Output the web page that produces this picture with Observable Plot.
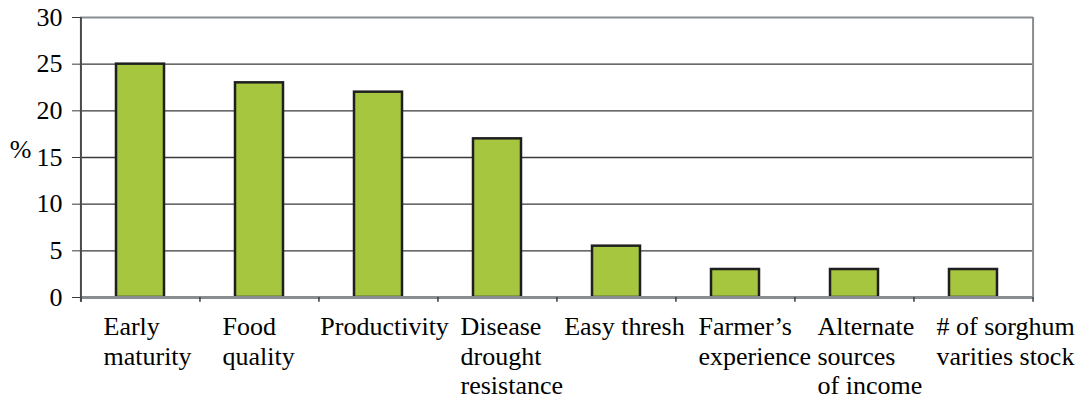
<!DOCTYPE html>
<html><head><meta charset="utf-8">
<script src="https://cdn.jsdelivr.net/npm/d3@7"></script>
<script src="https://cdn.jsdelivr.net/npm/@observablehq/plot@0.6"></script>
<style>body{margin:0;background:#fff;font-family:serif;}</style>
</head><body><div id="chart"></div>
<script>
const categories = ["Early maturity","Food quality","Productivity","Disease drought resistance","Easy thresh","Farmer’s experience","Alternate sources of income","# of sorghum varities stock"];
const labelLines = [["Early","maturity"],["Food","quality"],["Productivity"],["Disease","drought","resistance"],["Easy thresh"],["Farmer’s","experience"],["Alternate","sources","of income"],["# of sorghum","varities stock"]];
const values = [25, 23, 22, 17, 5.5, 3, 3, 3];
const yTicks = [0, 5, 10, 15, 20, 25, 30];
const yLabel = "%";

const W = 1077, H = 401, mL = 80, mR = 44, mT = 17, mB = 104;
const step = (W - mL - mR) / categories.length;
const FONT = "serif";
const FS = 26;
const data = categories.map((c, i) => ({cat: c, value: values[i], label: labelLines[i].join("\n"), lines: labelLines[i]}));

const approxWidth = s => s.length * FS * 0.45;
const labelMarks = data.map(d => {
  const w = Math.max(...d.lines.map(approxWidth));
  const dx = d.lines.length > 1 ? -37 : -w / 2 + 12;
  return Plot.text([d], {x: "cat", text: "label", frameAnchor: "bottom", dy: 17, dx,
    lineAnchor: "top", textAnchor: "start", lineHeight: 1.13, fontSize: FS, fontFamily: FONT});
});

const last = categories[categories.length - 1];
const chart = Plot.plot({
  width: W, height: H,
  marginLeft: mL, marginRight: mR, marginTop: mT, marginBottom: mB,
  style: {fontFamily: FONT, fontSize: FS + "px"},
  x: {domain: categories, paddingInner: 0.6, paddingOuter: 0.3, axis: null},
  y: {domain: [0, 30], axis: null},
  marks: [
    Plot.ruleY(yTicks.filter(t => t > 0 && t < 30), {stroke: "#3a3a3a", strokeWidth: 1.3}),
    Plot.ruleY([30], {stroke: "#8a8d90", strokeWidth: 2}),
    Plot.ruleX([last], {x: d => d, dx: step / 2, y1: 0, y2: 30, stroke: "#8a8d90", strokeWidth: 2}),
    Plot.barY(data, {x: "cat", y: "value", fill: "#a6c63f", stroke: "#1f1f1f", strokeWidth: 2.5}),
    Plot.ruleY([0], {stroke: "#8a8d90", strokeWidth: 3}),
    Plot.ruleX(categories, {x: d => d, dx: -step / 2, y1: 0, y2: -0.5, stroke: "#3a3a3a", strokeWidth: 1.5}),
    Plot.ruleX([last], {x: d => d, dx: step / 2, y1: 0, y2: -0.5, stroke: "#3a3a3a", strokeWidth: 1.5}),
    Plot.ruleX([categories[0]], {x: d => d, dx: -step / 2, y1: -0.5, y2: 30, stroke: "#4a4a4a", strokeWidth: 2}),
    Plot.axisY({ticks: yTicks, tickSize: 8, tickPadding: 10, label: null, fontSize: FS, fontFamily: FONT, stroke: "#3a3a3a", tickFormat: d => String(d)}),
    Plot.text([yLabel], {frameAnchor: "left", dx: -60, dy: -8, fontSize: FS, fontFamily: FONT, textAnchor: "middle"}),
    ...labelMarks
  ]
});
document.getElementById("chart").appendChild(chart);
</script>
</body></html>
